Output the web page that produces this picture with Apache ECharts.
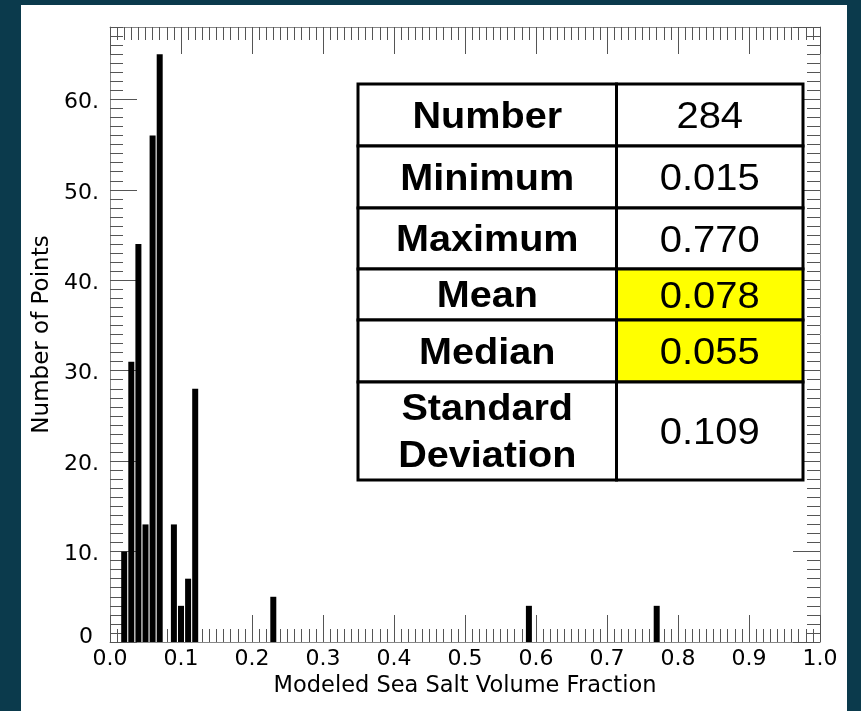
<!DOCTYPE html>
<html>
<head>
<meta charset="utf-8">
<script src="https://cdn.jsdelivr.net/npm/echarts@6/dist/echarts.min.js"></script>
<style>
  html, body { margin: 0; padding: 0; background: #0b3a4c; }
  #main { position: absolute; left: 21px; top: 5px; width: 826px; height: 706px; background: #fff; }
</style>
</head>
<body>
<div id="main"></div>
<script>
// histogram bins (bin centre) and counts
const binCenters = [0.02, 0.03, 0.04, 0.05, 0.06, 0.07, 0.09, 0.10, 0.11, 0.12, 0.23, 0.59, 0.77]
const counts = [10, 31, 44, 13, 56, 65, 13, 4, 7, 28, 5, 4, 4]

// stats table
const statLabels = ['Number', 'Minimum', 'Maximum', 'Mean', 'Median', 'Standard\nDeviation']
const statValues = ['284', '0.015', '0.770', '0.078', '0.055', '0.109']
const highlighted = ['Mean', 'Median']

const chart = echarts.init(document.getElementById('main'))

const tickColor = '#555'
const lineColor = '#888'
const axisFont = 'DejaVu Sans'

function tickAxis(position, interval, length, extra) {
  return Object.assign({
    type: 'value',
    position: position,
    interval: interval,
    axisLine: { show: false, onZero: false },
    axisTick: { show: true, inside: true, length: length, lineStyle: { color: tickColor, width: 1 } },
    axisLabel: { show: false },
    splitLine: { show: false }
  }, extra)
}

// table layout (px inside chart)
const colX = [337, 595.5, 782]
const rowY = [79, 141, 203, 264, 315, 377, 475]
const tableEls = []
statLabels.forEach((label, i) => {
  const y0 = rowY[i], h = rowY[i + 1] - rowY[i]
  const yc = y0 + h / 2 + 3
  const lx = (colX[0] + colX[1]) / 2, vx = (colX[1] + colX[2]) / 2
  tableEls.push({
    type: 'rect', z: 100,
    shape: { x: colX[0], y: y0, width: colX[1] - colX[0], height: h },
    style: { fill: '#fff', stroke: '#000', lineWidth: 3 }
  })
  tableEls.push({
    type: 'rect', z: 100,
    shape: { x: colX[1], y: y0, width: colX[2] - colX[1], height: h },
    style: { fill: highlighted.includes(label) ? '#ffff00' : '#fff', stroke: '#000', lineWidth: 3 }
  })
  tableEls.push({
    type: 'text', z: 101,
    x: lx, y: yc, scaleX: 1.1,
    style: {
      text: label, x: 0, y: 0,
      textAlign: 'center', textVerticalAlign: 'middle',
      font: 'bold 36px "Liberation Sans"', fill: '#000', lineHeight: 47
    }
  })
  tableEls.push({
    type: 'text', z: 101,
    x: vx, y: yc, scaleX: 1.08,
    style: {
      text: statValues[i], x: 0, y: 0,
      textAlign: 'center', textVerticalAlign: 'middle',
      font: '37px "Liberation Sans"', fill: '#000'
    }
  })
})

chart.setOption({
  animation: false,
  grid: { left: 89, top: 22, width: 710, height: 615 },
  xAxis: [
    {
      type: 'value', min: 0, max: 1, interval: 0.1, position: 'bottom',
      name: 'Modeled Sea Salt Volume Fraction', nameLocation: 'middle', nameGap: 29,
      nameTextStyle: { fontSize: 22.5, fontFamily: axisFont, color: '#000' },
      axisLine: { show: true, onZero: false, lineStyle: { color: lineColor } },
      axisTick: { show: true, inside: true, length: 27, lineStyle: { color: tickColor } },
      axisLabel: { fontSize: 22, fontFamily: axisFont, color: '#000', margin: 6, formatter: v => v.toFixed(1) },
      splitLine: { show: false }
    },
    tickAxis('bottom', 0.01, 13, { min: 0, max: 1 }),
    tickAxis('top', 0.1, 27, { min: 0, max: 1, axisLine: { show: true, onZero: false, lineStyle: { color: lineColor } } }),
    tickAxis('top', 0.01, 13, { min: 0, max: 1 })
  ],
  yAxis: [
    {
      type: 'value', min: 0, max: 68, interval: 10, position: 'left',
      name: 'Number of Points', nameLocation: 'middle', nameGap: 56,
      nameTextStyle: { fontSize: 23, fontFamily: axisFont, color: '#000' },
      axisLine: { show: true, onZero: false, lineStyle: { color: lineColor } },
      axisTick: { show: true, inside: true, length: 27, lineStyle: { color: tickColor } },
      axisLabel: {
        fontSize: 22, fontFamily: axisFont, color: '#000', margin: 11, showMaxLabel: false,
        formatter: v => v === 0 ? '{z|0}' : '{n|' + v + '.}',
        rich: {
          z: { fontSize: 22, fontFamily: axisFont, color: '#000', padding: [0, 6, 10, 0] },
          n: { fontSize: 22, fontFamily: axisFont, color: '#000', padding: [6, 0, 0, 0] }
        }
      },
      splitLine: { show: false }
    },
    tickAxis('left', 1, 13, { min: 0, max: 68 }),
    tickAxis('right', 10, 27, { min: 0, max: 68, axisLine: { show: true, onZero: false, lineStyle: { color: lineColor } } }),
    tickAxis('right', 1, 13, { min: 0, max: 68 })
  ],
  series: [{
    type: 'bar',
    xAxisIndex: 0, yAxisIndex: 0,
    barWidth: 6,
    itemStyle: { color: '#000' },
    data: binCenters.map((x, i) => [x, counts[i]]),
    z: 5
  }],
  graphic: tableEls
})
</script>
</body>
</html>
